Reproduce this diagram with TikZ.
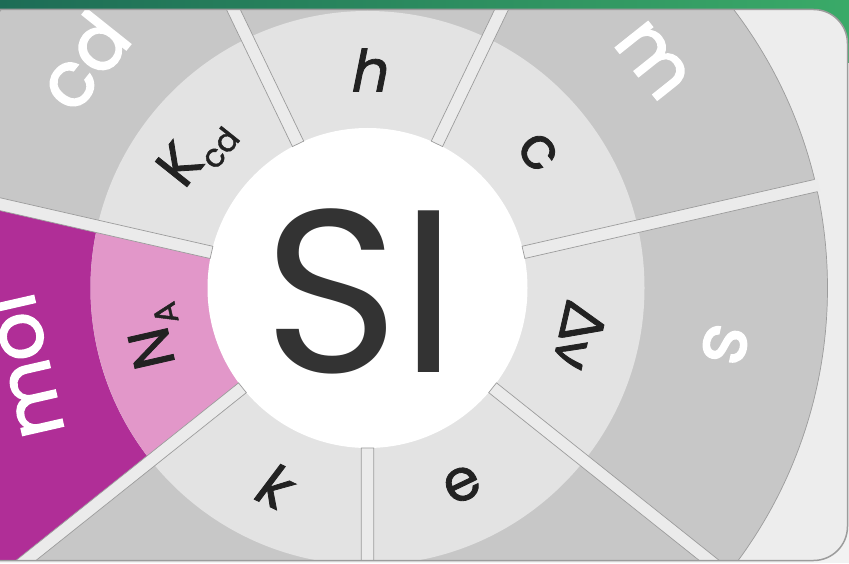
\documentclass[tikz,border=0pt]{standalone}
\usepackage{fontspec}
\newfontfamily\sifont{Poppins}
\newfontfamily\constfont{Poppins}[FakeBold=1.4]
\newfontfamily\sislant{Poppins}[FakeSlant=0.2, FakeBold=1.4]
\newfontfamily\unitfont{Poppins}[FakeBold=2.2]
\newfontfamily\sigreek{Lato}[FakeBold=1.4]

\definecolor{outsidegrey}{HTML}{F2F2F2}
\definecolor{panelgrey}{HTML}{EDEDED}
\definecolor{edgegrey}{HTML}{9C9C9C}
\definecolor{outergrey}{HTML}{C7C7C7}
\definecolor{midgrey}{HTML}{E3E3E3}
\definecolor{bargrey}{HTML}{EBEBEB}
\definecolor{molmagenta}{HTML}{B02E97}
\definecolor{napink}{HTML}{E297C9}
\definecolor{labeldark}{HTML}{222222}
\definecolor{sidark}{HTML}{333333}
\definecolor{greenL}{HTML}{1D6C56}
\definecolor{greenR}{HTML}{3AAA68}

\newcommand\lowsub[1]{\raisebox{-0.22em}{\fontsize{32}{32}\selectfont #1}}

\begin{document}
\begin{tikzpicture}[x=1pt, y=1pt,
    ring label/.style={font=\constfont\fontsize{58}{58}\selectfont,
        text=labeldark, inner sep=0pt},
    unit label/.style={font=\unitfont\fontsize{76}{76}\selectfont,
        text=white, inner sep=0pt},
    gap edge/.style={draw=edgegrey, line width=0.7pt}]

    \useasboundingbox (0,0) rectangle (849,563);

    % Background and green band
    \fill[outsidegrey] (0,0) rectangle (849,563);
    \shade[left color=greenL, right color=greenR] (0,500) rectangle (849,563);
    \fill[panelgrey, rounded corners=34pt] (-40,2.5) rectangle (847.5,553.5);

    \begin{scope}
    \clip[rounded corners=34pt] (-40,2.5) rectangle (847.5,553.5);
    \begin{scope}[shift={(367.5,275)}]
        % Outer ring: base units
        \fill[outergrey] (0,0) circle (460);
        \fill[molmagenta] (0,0) -- (167.14:460)
            arc[start angle=167.14, end angle=218.57, radius=460] -- cycle;
        \draw[edgegrey, line width=0.7pt] (0,0) circle (460);

        % Middle ring: defining constants
        \fill[midgrey] (0,0) circle (277);
        \fill[napink] (0,0) -- (167.14:277)
            arc[start angle=167.14, end angle=218.57, radius=277] -- cycle;

        % Centre disc
        \fill[white] (0,0) circle (160);

        % Gaps between the seven sectors
        \foreach \i in {0,...,6}{
            \pgfmathsetmacro\ang{64.29+51.43*\i}
            \begin{scope}[rotate=\ang]
                \fill[bargrey] (160,-6.25) rectangle (463,6.25);
                \draw[gap edge] (460,6.25) -- (160,6.25)
                    -- (160,-6.25) -- (460,-6.25);
            \end{scope}
        }

        % Constants (middle ring)
        \foreach \ang/\rot/\txt/\nm in {
            90/0/{\sislant h}/h, 38.57/-51.43/c/c,
            -12.86/-102.86/{\sigreek Δν}/dnu, -64.29/25.71/e/e,
            -115.71/-25.71/{\sislant k}/k,
            192.86/102.86/{N\lowsub{A}}/na,
            141.43/51.43/{K\lowsub{cd}}/kcd}{
            \node[ring label, rotate=\rot] (const-\nm) at (\ang:218) {\txt};
        }

        % Base units (outer ring)
        \foreach \ang/\rot/\rad/\txt in {
            141.43/51.43/365/cd, 38.57/-51.43/365/m,
            -9/-102.86/362/s, 192.86/102.86/355/mol}{
            \node[unit label, rotate=\rot] (unit-\txt) at (\ang:\rad) {\txt};
        }

        % SI
        \node[font=\sifont\fontsize{232}{232}\selectfont, text=sidark,
            inner sep=0pt] (si) at (-7,-3) {SI};
    \end{scope}
    \end{scope}

    % Panel border
    \draw[edgegrey, line width=1.5pt, rounded corners=34pt]
        (-40,2.5) rectangle (847.5,553.5);

\end{tikzpicture}
\end{document}
